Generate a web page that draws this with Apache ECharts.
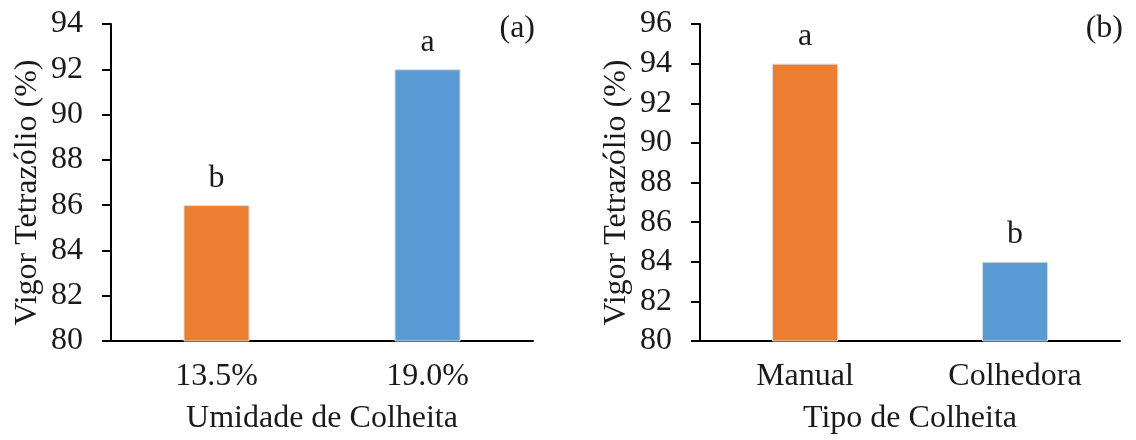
<!DOCTYPE html>
<html>
<head>
<meta charset="utf-8">
<script src="https://cdn.jsdelivr.net/npm/echarts@6/dist/echarts.min.js"></script>
<style>
html,body{margin:0;padding:0;background:#fff;}
#chart{width:1136px;height:440px;}
</style>
</head>
<body>
<div id="chart"></div>
<script>
// Panel (a)
const catsA = ['13.5%', '19.0%'];
const valsA = [86, 92];
const lettersA = ['b', 'a'];
// Panel (b)
const catsB = ['Manual', 'Colhedora'];
const valsB = [94, 84];
const lettersB = ['a', 'b'];
const yNameText = 'Vigor Tetrazólio (%)';
const xNameA = 'Umidade de Colheita';
const xNameB = 'Tipo de Colheita';
const barColors = ['#ED7D31', '#5B9BD5'];

const FONT = '"Liberation Serif", "DejaVu Serif", serif';
const TXT = '#1a1a1a';
const FS = 32;

function xAxis(idx, cats, name) {
  return {
    type: 'category', gridIndex: idx, data: cats,
    axisLine: { show: true, lineStyle: { color: '#000', width: 2 } },
    axisTick: { show: false },
    axisLabel: { color: TXT, fontFamily: FONT, fontSize: FS, margin: 20 },
    name: name, nameLocation: 'middle', nameGap: 62,
    nameTextStyle: { color: TXT, fontFamily: FONT, fontSize: FS }
  };
}
function yAxis(idx, max) {
  return {
    type: 'value', gridIndex: idx, min: 80, max: max, interval: 2,
    axisLine: { show: true, lineStyle: { color: '#000', width: 2 } },
    axisTick: { show: true, inside: false, length: 9, lineStyle: { color: '#000', width: 2 } },
    splitLine: { show: false },
    axisLabel: { color: TXT, fontFamily: FONT, fontSize: FS, margin: 28 },
    name: yNameText, nameLocation: 'middle', nameGap: 67, nameRotate: 90,
    nameTextStyle: { color: TXT, fontFamily: FONT, fontSize: FS, padding: [0, 20, 0, 0] }
  };
}
function series(idx, vals, letters) {
  return {
    type: 'bar', xAxisIndex: idx, yAxisIndex: idx, barWidth: 66,
    data: vals.map((v, i) => ({ value: v, itemStyle: { color: barColors[i], borderColor: '#d9d9d9', borderWidth: 1 } })),
    label: {
      show: true, position: 'top', distance: 11,
      formatter: p => letters[p.dataIndex],
      color: TXT, fontFamily: FONT, fontSize: FS
    }
  };
}

const chart = echarts.init(document.getElementById('chart'), null, { renderer: 'canvas' });
chart.setOption({
  backgroundColor: '#fff',
  animation: false,
  title: [
    { text: '(a)', right: 1136 - 535, top: 13, padding: 0, textStyle: { color: TXT, fontFamily: FONT, fontSize: FS, fontWeight: 'normal' } },
    { text: '(b)', right: 1136 - 1123, top: 13, padding: 0, textStyle: { color: TXT, fontFamily: FONT, fontSize: FS, fontWeight: 'normal' } }
  ],
  grid: [
    { left: 111, right: 1136 - 533, top: 24, bottom: 98 },
    { left: 700, right: 16, top: 24, bottom: 98 }
  ],
  xAxis: [xAxis(0, catsA, xNameA), xAxis(1, catsB, xNameB)],
  yAxis: [yAxis(0, 94), yAxis(1, 96)],
  series: [series(0, valsA, lettersA), series(1, valsB, lettersB)]
});
</script>
</body>
</html>
